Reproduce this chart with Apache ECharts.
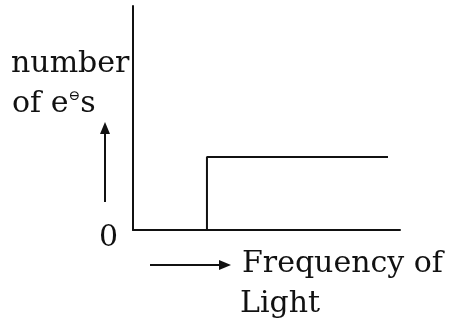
<!DOCTYPE html>
<html>
<head>
<meta charset="utf-8">
<script src="https://cdn.jsdelivr.net/npm/echarts@6/dist/echarts.min.js"></script>
<style>
  html, body { margin: 0; padding: 0; background: #fff; }
  #chart { width: 449px; height: 329px; }
</style>
</head>
<body>
<div id="chart"></div>
<script>
// photoelectric effect: number of electrons vs frequency (arbitrary units)
const frequency = [2.77, 2.77, 9.55]
const electrons = [0, 3.26, 3.26]
const xRange = [0, 10]
const yRange = [0, 10]
const originLabel = '0'
const yTitle = ['number', 'of e', '⊖', 's']
const xTitle = ['Frequency of', 'Light']

const FONT = '"DejaVu Serif", "Liberation Serif", serif'
const INK = '#111'

const chart = echarts.init(document.getElementById('chart'))

const axisCommon = {
  type: 'value',
  axisLine: { show: true, onZero: false, lineStyle: { color: INK, width: 2 } },
  axisTick: { show: false },
  axisLabel: { show: false },
  splitLine: { show: false }
}

const txt = (x, y, text, size) => ({
  type: 'text',
  x, y,
  style: { text, font: `${size}px ${FONT}`, fill: INK, textVerticalAlign: 'middle' }
})

chart.setOption({
  backgroundColor: '#fff',
  animation: false,
  grid: { left: 133, right: 49, top: 6, bottom: 99 },
  xAxis: { ...axisCommon, min: xRange[0], max: xRange[1] },
  yAxis: { ...axisCommon, min: yRange[0], max: yRange[1] },
  series: [{
    type: 'line',
    data: frequency.map((f, i) => [f, electrons[i]]),
    symbol: 'none',
    lineStyle: { color: INK, width: 2 }
  }],
  graphic: [
    txt(11, 64, yTitle[0], 30),
    {
      type: 'text',
      x: 12, y: 104,
      style: {
        text: `{a|${yTitle[1]}}{s|${yTitle[2]}}{a|${yTitle[3]}}`,
        textVerticalAlign: 'middle',
        rich: {
          a: { font: `30px ${FONT}`, fill: INK, lineHeight: 30 },
          s: { font: `14px ${FONT}`, fill: INK, verticalAlign: 'top', lineHeight: 16 }
        }
      }
    },
    txt(99, 238, originLabel, 30),
    txt(242, 264, xTitle[0], 30),
    txt(240, 304, xTitle[1], 30),
    // up arrow
    { type: 'line', shape: { x1: 105, y1: 202, x2: 105, y2: 130 }, style: { stroke: INK, lineWidth: 2 } },
    { type: 'polygon', shape: { points: [[105, 122], [100, 134], [110, 134]] }, style: { fill: INK } },
    // right arrow
    { type: 'line', shape: { x1: 150, y1: 265, x2: 222, y2: 265 }, style: { stroke: INK, lineWidth: 2 } },
    { type: 'polygon', shape: { points: [[231, 265], [219, 260], [219, 270]] }, style: { fill: INK } }
  ]
})
</script>
</body>
</html>
